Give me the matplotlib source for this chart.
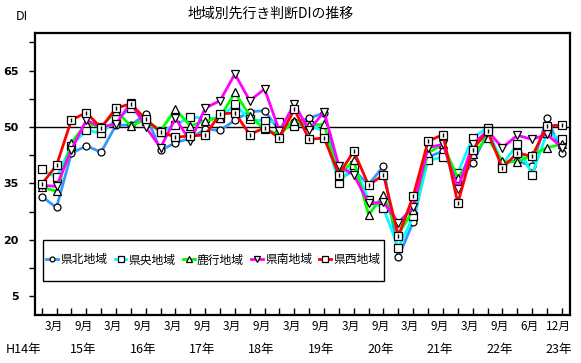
import matplotlib
matplotlib.use("Agg")
import matplotlib.pyplot as plt
from matplotlib.patches import Rectangle
import matplotlib.transforms as mtransforms
import numpy as np

plt.rcParams['font.family'] = ['Noto Sans CJK JP', 'DejaVu Sans']

# quarterly survey points: H14/12 ... H22/12, H23/6, H23/9, H23/12 (no H23/3)
n_points = 36
month_labels = ['3月', '9月'] * 15 + ['3月', '9月', '6月', '12月']
month_label_idx = list(range(1, 32, 2)) + [33, 35]
month_labels = ['3月', '9月'] * 8 + ['6月', '12月']
year_labels = ['H14年', '15年', '16年', '17年', '18年', '19年', '20年', '21年', '22年', '23年']
year_label_idx = [-1, 3, 7, 11, 15, 19, 23, 27, 31, 35]

kenpoku = [31.5, 28.6, 43.0, 45.0, 43.3, 50.5, 50.5, 53.4, 43.8, 45.8, 47.0, 49.4,
           49.1, 51.8, 54.1, 54.3, 49.0, 51.2, 52.3, 53.8, 36.0, 38.5, 34.7, 39.6,
           15.3, 24.8, 42.0, 43.6, 35.5, 40.4, 48.5, 40.4, 41.0, 39.6, 52.5, 43.1]
kenou = [38.7, 36.6, 45.0, 49.2, 48.3, 52.0, 55.0, 51.6, 48.7, 50.5, 52.7, 52.3,
         52.3, 56.1, 52.0, 51.6, 51.2, 50.3, 50.5, 48.9, 35.1, 40.0, 30.6, 28.4,
         17.9, 26.2, 41.1, 42.0, 37.8, 47.1, 49.8, 40.0, 45.4, 37.3, 48.5, 46.7]
rokko = [34.0, 32.9, 45.8, 51.0, 50.0, 54.3, 50.3, 52.0, 49.0, 54.7, 50.3, 51.6,
         52.5, 59.2, 53.0, 49.4, 48.0, 51.6, 50.5, 50.7, 37.0, 41.1, 26.6, 32.0,
         21.3, 28.0, 43.1, 45.4, 36.4, 42.7, 47.1, 40.9, 40.7, 42.5, 44.5, 45.4]
kennan = [34.5, 34.2, 44.0, 51.8, 50.0, 50.8, 56.5, 50.0, 44.5, 52.3, 46.2, 55.0,
          57.0, 64.1, 57.0, 60.1, 48.9, 56.1, 49.1, 54.1, 39.6, 37.3, 29.7, 30.0,
          24.6, 28.6, 44.5, 45.4, 33.6, 45.4, 49.0, 44.5, 47.8, 46.7, 48.1, 44.5]
kensei = [34.8, 39.8, 51.9, 53.8, 49.8, 55.0, 56.2, 52.0, 48.7, 47.3, 47.6, 47.9,
          53.4, 53.8, 48.0, 49.8, 47.1, 54.7, 46.7, 47.1, 37.3, 43.6, 34.5, 37.3,
          21.0, 31.6, 46.2, 48.0, 29.7, 44.0, 48.9, 39.1, 43.1, 42.2, 50.3, 50.5]

series_names = ['県北地域', '県央地域', '鹿行地域', '県南地域', '県西地域']
series_vals = [kenpoku, kenou, rokko, kennan, kensei]
colors = ['#3399FF', '#00FFFF', '#00FF00', '#FF00FF', '#FF0000']
markers = ['o', 's', '^', 'v', 's']

fig = plt.figure(figsize=(5.81, 3.63), dpi=100)
ax = fig.add_axes([35/581, 1-315/363, (570-35)/581, (315-33)/363])

x = np.arange(n_points)
handles = []
for name, vals, c, m in zip(series_names, series_vals, colors, markers):
    h, = ax.plot(x, vals, color=c, lw=2.0, marker=m, ms=5.5 if m != 'o' else 5,
                 mfc='white', mec='black', mew=0.9, label=name, zorder=3)
    handles.append(h)
# dot inside 県西 squares
ax.plot(x, kensei, ls='none', marker='|', ms=2.5, mec='black', mew=1.0, zorder=4)

ax.axhline(50, color='black', lw=1.0, zorder=2)

ax.set_xlim(-0.45, 35.55)
ax.set_ylim(0, 75)
yt = np.arange(5, 75, 7.5)
ax.set_yticks(yt)
ax.set_yticklabels([f'{v:g}' if i % 2 == 0 else '' for i, v in enumerate(yt)],
                   fontfamily='DejaVu Sans', fontweight='bold', fontsize=8)
ax.tick_params(axis='y', direction='out', length=4, width=1, pad=8)
ax.set_xticks(x)
ax.set_xticklabels([])
ax.tick_params(axis='x', direction='in', length=5, width=1)
for s in ax.spines.values():
    s.set_linewidth(1.6)

trans = mtransforms.blended_transform_factory(ax.transData, fig.transFigure)
for idx, lab in zip(month_label_idx, month_labels):
    ax.text(idx - 0.2, 1 - 326/363, lab, transform=trans, ha='center', va='center',
            fontsize=8.5, clip_on=False)
for idx, lab in zip(year_label_idx, year_labels):
    ax.text(idx - 0.2, 1 - 350/363, lab, transform=trans, ha='center', va='center',
            fontsize=9, clip_on=False)

fig.text(271/581, 1 - 14/363, '地域別先行き判断DIの推移', ha='center', va='center', fontsize=10)
fig.text(22/581, 1 - 16/363, 'DI', ha='center', va='center', fontsize=9)

# legend box
fig.patches.append(Rectangle((43/581, 1-281/363), (384-43)/581, (281-240)/363,
                             transform=fig.transFigure, fill=True, facecolor='white',
                             edgecolor='black', lw=1.0, zorder=5))
leg = fig.legend(handles=handles, loc='center', ncol=5,
                 bbox_to_anchor=((43+384)/2/581, 1-260/363), frameon=False,
                 fontsize=8.5, handlelength=1.0, handletextpad=0.2, columnspacing=0.6,
                 markerscale=0.7)
leg.set_zorder(6)

fig.savefig('out.png', dpi=100)
